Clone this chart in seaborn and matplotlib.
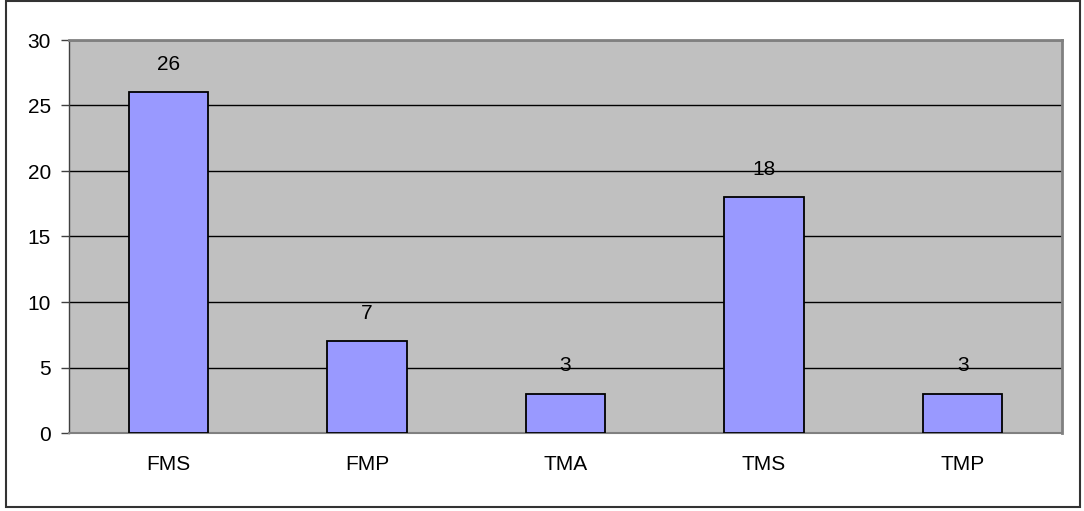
import matplotlib
matplotlib.use("Agg")
import matplotlib.pyplot as plt
import seaborn as sns
import pandas as pd
from matplotlib.patches import Rectangle

categories = ["FMS", "FMP", "TMA", "TMS", "TMP"]
counts = [26, 7, 3, 18, 3]
y_ticks = [0, 5, 10, 15, 20, 25, 30]

df = pd.DataFrame({"category": categories, "count": counts})

sns.set_theme(style="white")
plt.rcParams["font.family"] = ["Liberation Sans", "DejaVu Sans"]

fig = plt.figure(figsize=(10.84, 5.11), dpi=100)
fig.patch.set_facecolor("white")
ax = fig.add_axes([69 / 1084, 1 - 433 / 511, (1062 - 69) / 1084, (433 - 40) / 511])
ax.set_facecolor("#C0C0C0")

sns.barplot(data=df, x="category", y="count", color="#9999FF", width=0.4,
            edgecolor="black", linewidth=1.3, saturation=1, ax=ax, zorder=3)

ax.set_xlim(-0.5, len(categories) - 0.5)
ax.set_ylim(0, 30)
ax.set_yticks(y_ticks)
ax.yaxis.grid(True, color="black", linewidth=1.0, zorder=1)
ax.set_axisbelow(True)
ax.set_xlabel("")
ax.set_ylabel("")

# category labels at bar centres, tick marks at category boundaries
ax.set_xticks(range(len(categories)))
ax.set_xticklabels(categories)
ax.set_xticks([i - 0.5 for i in range(len(categories) + 1)], minor=True)
ax.tick_params(axis="x", which="major", length=0, pad=16, labelsize=15, labelcolor="black")
ax.tick_params(axis="x", which="minor", length=6, width=1, color="#404040", direction="out")
ax.tick_params(axis="y", length=6, width=1, color="#404040", direction="out",
               pad=7, labelsize=15, left=True, labelcolor="black")

for side in ["top", "right"]:
    ax.spines[side].set_visible(True)
    ax.spines[side].set_color("#808080")
    ax.spines[side].set_linewidth(2)
ax.spines["left"].set_color("#404040")
ax.spines["left"].set_linewidth(1)
ax.spines["bottom"].set_color("#808080")
ax.spines["bottom"].set_linewidth(1.5)

for i, v in enumerate(counts):
    ax.annotate(str(v), (i, v), xytext=(0, 20), textcoords="offset points",
                ha="center", va="center", fontsize=15, color="black")

# outer chart frame
fig.patches.append(Rectangle((6 / 1084, 1 - 507 / 511), 1074 / 1084, 506 / 511,
                             transform=fig.transFigure, fill=False,
                             edgecolor="#333333", linewidth=1.5))

fig.savefig("out.png", dpi=100, facecolor="white")
